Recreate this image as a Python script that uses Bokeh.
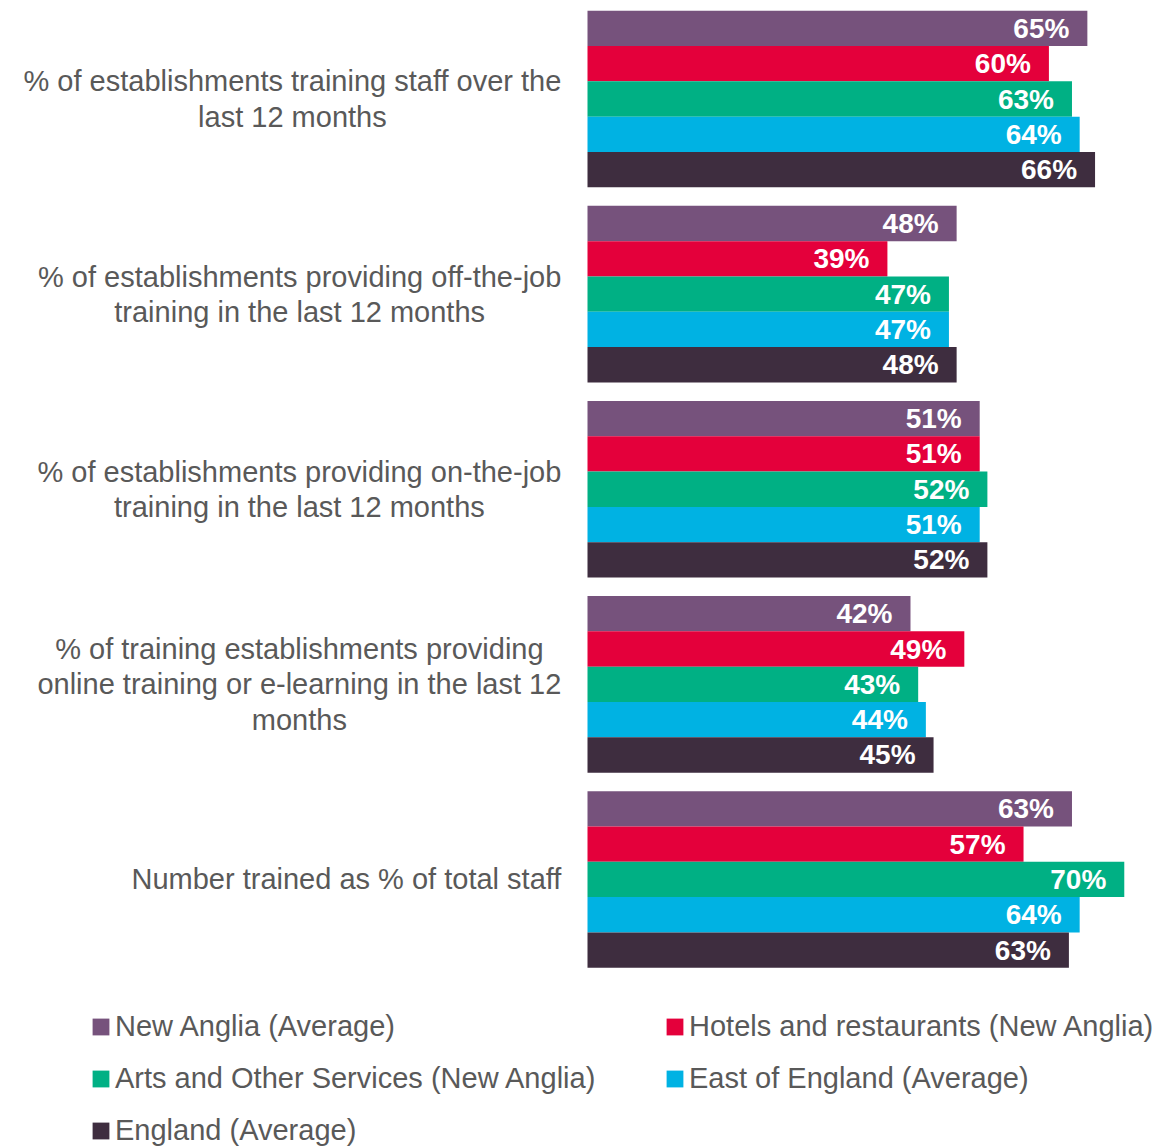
from bokeh.plotting import figure
from bokeh.models import ColumnDataSource, Range1d, Legend, LegendItem
from bokeh.transform import dodge
from bokeh.core.properties import value
from bokeh.embed import file_html
from bokeh.resources import INLINE

categories = [
    "% of establishments training staff over the\nlast 12 months",
    "% of establishments providing off-the-job\ntraining in the last 12 months",
    "% of establishments providing on-the-job\ntraining in the last 12 months",
    "% of training establishments providing\nonline training or e-learning in the last 12\nmonths",
    "Number trained as % of total staff",
]
series_names = [
    "New Anglia (Average)",
    "Hotels and restaurants (New Anglia)",
    "Arts and Other Services (New Anglia)",
    "East of England (Average)",
    "England (Average)",
]
new_anglia = [65, 48, 51, 42, 63]
hotels = [60, 39, 51, 49, 56.7]
arts = [63, 47, 52, 43, 69.8]
east = [64, 47, 51, 44, 64]
england = [66, 48, 52, 45, 62.6]
series_values = [new_anglia, hotels, arts, east, england]
colors = ["#76527C", "#E4003B", "#00B084", "#00B2E3", "#3E2D3F"]

FONT = "Liberation Sans"
GREY = "#595959"

n = len(categories)
pos = [n - 1 - i for i in range(n)]

p = figure(width=1155, height=1148,
           x_range=Range1d(-76.33, 73.86), y_range=Range1d(-1.379, 4.505),
           output_backend="svg", toolbar_location=None, min_border=0,
           x_axis_location=None, y_axis_location=None)
p.grid.visible = False
p.outline_line_color = None

bar_h = 0.181
renderers = []
for j, (name, vals, col) in enumerate(zip(series_names, series_values, colors)):
    off = (2 - j) * bar_h
    src = ColumnDataSource(dict(y=pos, v=vals, lab=[f"{v:.0f}%" for v in vals]))
    r = p.hbar(y=dodge("y", off), right="v", left=0, height=bar_h,
               fill_color=col, line_color=None, source=src)
    p.text(x="v", y=dodge("y", off), text="lab", x_offset=-18,
           text_align="right", text_baseline="middle",
           text_font=value(FONT), text_font_style="bold",
           text_font_size="28px", text_color="white", source=src)
    renderers.append(r)

csrc = ColumnDataSource(dict(y=pos, t=categories))
p.text(x=-3.4, y="y", text="t", source=csrc, anchor=value("center_right"),
       text_align="center", text_baseline="middle",
       text_font=value(FONT), text_font_size="29px", text_color=GREY,
       text_line_height=1.1)

def make_legend(idx, loc):
    leg = Legend(items=[LegendItem(label=series_names[i], renderers=[renderers[i]]) for i in idx],
                 location=loc)
    leg.glyph_width = 21
    leg.glyph_height = 21
    leg.label_standoff = 4
    leg.label_text_font = FONT
    leg.label_text_font_size = "29px"
    leg.label_text_color = GREY
    leg.label_height = 34
    leg.spacing = 18
    leg.padding = 0
    leg.margin = 0
    leg.border_line_color = None
    leg.background_fill_alpha = 0
    return leg

p.add_layout(make_legend((0, 2, 4), (90, 1)))
p.add_layout(make_legend((1, 3), (664, 53)))

open("out.html", "w").write(file_html(p, INLINE))
